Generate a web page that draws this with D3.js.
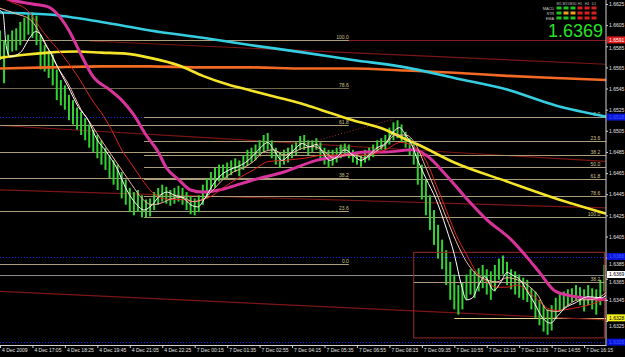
<!DOCTYPE html>
<html><head><meta charset="utf-8">
<script src="https://cdn.jsdelivr.net/npm/d3@7/dist/d3.min.js"></script>
<style>body{margin:0;background:#000;overflow:hidden}svg{display:block;font-family:"Liberation Sans",Arial,sans-serif}</style>
</head><body><svg width="625" height="357"></svg>
<script>
// time labels, one every 8 bars (each bar here = 10 min)
var timeLabels = ["4 Dec 2009","4 Dec 17:05","4 Dec 18:25","4 Dec 19:45","4 Dec 21:05","4 Dec 22:25",
  "7 Dec 00:15","7 Dec 01:35","7 Dec 02:55","7 Dec 04:15","7 Dec 05:35","7 Dec 06:55","7 Dec 08:15",
  "7 Dec 09:35","7 Dec 10:55","7 Dec 12:15","7 Dec 13:35","7 Dec 14:55","7 Dec 16:15"];
var priceTicks = [1.6625,1.6605,1.6585,1.6565,1.6545,1.6525,1.6505,1.6485,1.6465,1.6445,1.6425,1.6405,1.6385,1.6365,1.6345,1.6325];

var barHigh = [1.6600,1.6591,1.6596,1.6600,1.6602,1.6608,1.6612,1.6615,1.6617,1.6614,
  1.6596,1.6586,1.6581,1.6577,1.6563,1.6553,1.6548,1.6539,1.6534,1.6527,
  1.6523,1.6517,1.6511,1.6506,1.6501,1.6496,1.6489,1.6482,1.6477,1.6473,
  1.6466,1.6459,1.6451,1.6447,1.6449,1.6444,1.6440,1.6441,1.6447,1.6451,
  1.6454,1.6452,1.6449,1.6451,1.6453,1.6451,1.6447,1.6443,1.6441,1.6444,
  1.6454,1.6460,1.6466,1.6470,1.6473,1.6473,1.6475,1.6477,1.6479,1.6477,
  1.6482,1.6487,1.6489,1.6492,1.6496,1.6501,1.6503,1.6496,1.6489,1.6485,
  1.6487,1.6489,1.6492,1.6494,1.6500,1.6501,1.6496,1.6496,1.6498,1.6494,
  1.6489,1.6487,1.6487,1.6489,1.6492,1.6493,1.6492,1.6487,1.6485,1.6482,
  1.6487,1.6489,1.6492,1.6496,1.6498,1.6501,1.6508,1.6513,1.6515,1.6511,
  1.6504,1.6498,1.6494,1.6487,1.6473,1.6459,1.6444,1.6430,1.6416,1.6402,
  1.6392,1.6381,1.6369,1.6359,1.6362,1.6369,1.6374,1.6372,1.6375,1.6378,
  1.6374,1.6372,1.6378,1.6384,1.6387,1.6381,1.6374,1.6372,1.6369,1.6366,
  1.6364,1.6356,1.6353,1.6345,1.6340,1.6336,1.6340,1.6347,1.6350,1.6353,
  1.6355,1.6356,1.6359,1.6357,1.6355,1.6359,1.6356,1.6355,1.6364,1.6378];
var barLow = [1.6572,1.6550,1.6577,1.6580,1.6581,1.6586,1.6591,1.6596,1.6593,1.6586,
  1.6563,1.6561,1.6555,1.6548,1.6534,1.6529,1.6525,1.6515,1.6511,1.6506,
  1.6501,1.6496,1.6489,1.6485,1.6479,1.6473,1.6468,1.6460,1.6454,1.6449,
  1.6441,1.6435,1.6428,1.6425,1.6428,1.6423,1.6423,1.6424,1.6430,1.6435,
  1.6438,1.6436,1.6434,1.6436,1.6438,1.6435,1.6430,1.6426,1.6425,1.6428,
  1.6435,1.6441,1.6447,1.6451,1.6457,1.6459,1.6460,1.6463,1.6466,1.6462,
  1.6468,1.6472,1.6475,1.6477,1.6482,1.6485,1.6487,1.6479,1.6473,1.6470,
  1.6473,1.6475,1.6479,1.6482,1.6487,1.6487,1.6482,1.6485,1.6487,1.6479,
  1.6473,1.6470,1.6472,1.6475,1.6479,1.6482,1.6479,1.6475,1.6473,1.6471,
  1.6475,1.6477,1.6480,1.6484,1.6487,1.6487,1.6492,1.6496,1.6498,1.6494,
  1.6489,1.6482,1.6473,1.6454,1.6440,1.6425,1.6411,1.6397,1.6384,1.6374,
  1.6359,1.6345,1.6336,1.6331,1.6336,1.6345,1.6350,1.6347,1.6353,1.6356,
  1.6350,1.6345,1.6353,1.6364,1.6369,1.6359,1.6355,1.6350,1.6347,1.6345,
  1.6343,1.6336,1.6328,1.6321,1.6315,1.6312,1.6316,1.6328,1.6334,1.6337,
  1.6340,1.6343,1.6345,1.6340,1.6334,1.6340,1.6336,1.6331,1.6340,1.6353];

// moving averages as [bar, price]
var maFast = [[0,1.6619],[0.75,1.6616],[1.5,1.6586],[2.5,1.6575],[5,1.6579],[7.5,1.6594],[8.75,1.6599],[10,1.6596],
  [11.25,1.6586],[12.5,1.6579],[14.25,1.6565],[16.75,1.6547],[19.25,1.6528],[21.75,1.6515],[23.75,1.6498],[26.25,1.6485],
  [28.75,1.6470],[31.25,1.6449],[33.75,1.6435],[35.5,1.6430],[37.5,1.6435],[39.5,1.6444],[41.25,1.6447],[43,1.6444],
  [45,1.6442],[47,1.6435],[48.75,1.6433],[50.5,1.6441],[52.5,1.6454],[54.5,1.6463],[56.5,1.6468],[58.5,1.6471],
  [60.5,1.6475],[62.5,1.6482],[64.5,1.6490],[66,1.6494],[67.5,1.6487],[69.5,1.6477],[71.25,1.6482],[73,1.6489],
  [74.5,1.6493],[76.25,1.6490],[78,1.6492],[79.5,1.6485],[81.25,1.6477],[83,1.6480],[85,1.6487],[87,1.6482],
  [89,1.6477],[91,1.6482],[93,1.6489],[95,1.6493],[97,1.6504],[98.5,1.6508],[100,1.6501],[101.5,1.6492],
  [103,1.6477],[105,1.6460],[107.5,1.6440],[110,1.6413],[112,1.6388],[113.75,1.6359],[115,1.6345],[116.5,1.6347],
  [118,1.6359],[119.5,1.6367],[121.75,1.6354],[123.5,1.6362],[125,1.6371],[126.5,1.6368],[128.25,1.6364],[130,1.6353],
  [131.75,1.6342],[133.75,1.6328],[135.75,1.6323],[137.5,1.6330],[139.25,1.6337],[141.75,1.6342],[145,1.6348],[148.25,1.6347],[150.75,1.6356]];
var maMid = [[0,1.6621],[3.75,1.6616],[7.5,1.6610],[10.75,1.6591],[14.25,1.6565],[16.75,1.6550],[20,1.6525],[22.5,1.6511],
  [25,1.6496],[27.5,1.6482],[30,1.6468],[32.5,1.6454],[35,1.6441],[37.5,1.6435],[40,1.6437],[42.5,1.6441],[45,1.6442],
  [47.5,1.6438],[50,1.6440],[52.5,1.6449],[55,1.6459],[57.5,1.6466],[60,1.6470],[62.5,1.6476],[65,1.6485],[67.5,1.6487],
  [70,1.6482],[72.5,1.6485],[75,1.6489],[77.5,1.6490],[80,1.6485],[82.5,1.6479],[85,1.6482],[87.5,1.6482],[90,1.6479],
  [92.5,1.6485],[95,1.6492],[97.5,1.6501],[100,1.6501],[102.5,1.6492],[105,1.6470],[107.5,1.6447],[110,1.6423],
  [112.5,1.6400],[115,1.6381],[117.5,1.6369],[120,1.6364],[122.5,1.6362],[125,1.6366],[127.5,1.6364],[130,1.6359],
  [132.5,1.6350],[135,1.6335],[137.5,1.6334],[140,1.6340],[142.5,1.6345],[145,1.6345],[147.5,1.6347],[150,1.6354]];
var maSlow = [[0,1.6634],[1.75,1.6629],[6.75,1.6619],[10.75,1.6598],[15.75,1.6575],[19.25,1.6556],[23.25,1.6531],[25,1.6522],
  [27.5,1.6506],[30,1.6487],[32.5,1.6473],[35,1.6459],[37.5,1.6447],[40,1.6441],[42.5,1.6440],[45,1.6440],[47.5,1.6438],
  [50,1.6440],[52.5,1.6444],[55,1.6451],[58.75,1.6460],[62.5,1.6468],[66.25,1.6476],[70,1.6477],[75,1.6479],[80,1.6482],
  [85,1.6482],[90,1.6482],[95,1.6487],[98.75,1.6494],[102.5,1.6489],[105,1.6477],[107.5,1.6454],[110,1.6430],[112.5,1.6406],
  [115,1.6388],[117.5,1.6371],[120,1.6362],[122.5,1.6357],[125,1.6357],[127.5,1.6359],[130,1.6354],[132.5,1.6345],
  [135,1.6337],[137.5,1.6335],[141.25,1.6337],[145,1.6340],[150,1.6347]];
var ma50 = [[0,1.6632],[2.5,1.6629],[8,1.6625],[12,1.6622],[14,1.6616],[17,1.6600],[20,1.6577],[23,1.6556],[27,1.6544],
  [30,1.6534],[33,1.6520],[36,1.6501],[39,1.6485],[41,1.6470],[44,1.6459],[47,1.6449],[50,1.6447],[54,1.6449],[57,1.6452],
  [62,1.6458],[70,1.6466],[78,1.6477],[85,1.6482],[90,1.6485],[95,1.6485],[102,1.6487],[105,1.6482],[110,1.6463],
  [115,1.6441],[120,1.6421],[126,1.6402],[130,1.6385],[133,1.6371],[137,1.6353],[142,1.6348],[146,1.6346],[150,1.6345]];
var ma100 = [[0,1.6574],[6,1.6577],[12,1.6579],[19,1.6580],[25,1.6579],[31,1.6578],[37,1.6574],[44,1.6567],[50,1.6557],
  [56,1.6549],[62,1.6543],[69,1.6536],[75,1.6530],[79,1.6525],[87,1.6515],[95,1.6506],[100,1.6497],[103,1.6492],
  [112,1.6475],[125,1.6457],[137,1.6441],[150,1.6426]];
var ma200 = [[0,1.6617],[12,1.6615],[25,1.6608],[37,1.6600],[50,1.6593],[62,1.6586],[75,1.6579],[87,1.6572],[100,1.6565],
  [112,1.6555],[125,1.6544],[137,1.6529],[150,1.6518]];
var ma365 = [[0,1.6564],[12,1.6565],[25,1.6566],[37,1.6566],[50,1.6565],[62,1.6565],[75,1.6564],[87,1.6564],[100,1.6562],
  [112,1.6560],[125,1.6557],[137,1.6555],[150,1.6553]];

var fibLevels = [0, 23.6, 38.2, 50, 61.8, 78.6, 100];
var fibLeft = {start: 0, end: 86, p0: 1.6379, p100: 1.6591};
var fibRight = {start: 35.5, end: 150, p0: 1.6518, p100: 1.6423};
var boxBars = [102, 149], boxPrices = [1.6390, 1.6309];
var boxFib = 1.6362;
var redLevel = 1.6591, blueLevels = [1.6518, 1.6386, 1.6305], bidPrice = 1.6369, alertLevel = 1.6328;
var trendLines = [[[22,1.6590],[149.4,1.6568]], [[0,1.6449],[149.4,1.6432]], [[0,1.6353],[149.4,1.6326]], [[0,1.6510],[149.4,1.6476]]];
var dottedTrend = [[57,1.6473],[97,1.6516]];
var meterRows = ["MACD", "STR", "EMA"];
var meterCols = ["M5", "M15", "M30", "H1", "H4", "D1"];
var meterState = [[1,1,1,-1,-1,-1],[1,0,0,-1,-1,-1],[1,1,1,-1,-1,-1]];

var svg = d3.select("svg"),
  width = +svg.attr("width"),
  height = +svg.attr("height");
var plotRight = 606, plotBottom = 345;

var x = d3.scaleLinear().domain([0, 149.4]).range([0, plotRight]);
var y = d3.scaleLinear().domain([1.6325, 1.6625]).range([321, 4]);

svg.append("rect").attr("width", width).attr("height", height).attr("fill", "#000");
svg.append("defs").append("clipPath").attr("id", "plot")
  .append("rect").attr("width", plotRight).attr("height", plotBottom);
var g = svg.append("g").attr("clip-path", "url(#plot)");

function hline(p, b0, b1, color, w, dash) {
  var l = g.append("line")
    .attr("x1", x(b0)).attr("x2", x(b1))
    .attr("y1", Math.round(y(p)) + 0.5).attr("y2", Math.round(y(p)) + 0.5)
    .attr("stroke", color).attr("stroke-width", w || 1);
  if (dash) l.attr("stroke-dasharray", dash);
  return l;
}

// horizontal levels
blueLevels.forEach(function(p) { hline(p, 0, 149.4, "#1c1cff", 1, "1,2"); });
hline(redLevel, 0, 149.4, "#8a1a1a", 1.2);
hline(bidPrice, 0, 149.4, "#8c8c8c", 1);
hline(alertLevel, 112, 149.4, "#e0d890", 1);

// trend lines
trendLines.forEach(function(t) {
  g.append("line").attr("x1", x(t[0][0])).attr("y1", y(t[0][1]))
    .attr("x2", x(t[1][0])).attr("y2", y(t[1][1]))
    .attr("stroke", "#7c1616").attr("stroke-width", 1.2);
});
g.append("line").attr("x1", x(dottedTrend[0][0])).attr("y1", y(dottedTrend[0][1]))
  .attr("x2", x(dottedTrend[1][0])).attr("y2", y(dottedTrend[1][1]))
  .attr("stroke", "#a03030").attr("stroke-dasharray", "1,2");

// fibonacci sets
function drawFib(f, labelBar) {
  fibLevels.forEach(function(lv) {
    var p = f.p0 + (f.p100 - f.p0) * lv / 100;
    hline(p, f.start, f.end, lv == 78.6 && f === fibLeft ? "#6e684c" : "#aa9d7a", 1);
    g.append("text").attr("x", x(labelBar)).attr("y", y(p) - 1)
      .attr("text-anchor", "end").attr("font-size", 5).attr("fill", "#d2c48c")
      .text(lv.toFixed(1));
  });
}
drawFib(fibLeft, 86);
drawFib(fibRight, 148);

// price bars
g.append("g").selectAll("line").data(barHigh).enter().append("line")
  .attr("x1", function(d, i) { return x(i); })
  .attr("x2", function(d, i) { return x(i); })
  .attr("y1", function(d) { return y(d); })
  .attr("y2", function(d, i) { return y(barLow[i]); })
  .attr("stroke", "#34d034").attr("stroke-width", 2);

// box with its level
g.append("rect").attr("x", x(boxBars[0])).attr("y", y(boxPrices[0]))
  .attr("width", x(boxBars[1]) - x(boxBars[0])).attr("height", y(boxPrices[1]) - y(boxPrices[0]))
  .attr("fill", "none").attr("stroke", "#9c2a2a");
hline(boxFib, boxBars[0], boxBars[1], "#aa9d7a", 1);
g.append("text").attr("x", x(148)).attr("y", y(boxFib) - 1).attr("text-anchor", "end")
  .attr("font-size", 5).attr("fill", "#d2c48c").text("38.2");

// moving averages
var line = d3.line().x(function(d) { return x(d[0]); }).y(function(d) { return y(d[1]); })
  .curve(d3.curveMonotoneX);
[[ma365, "#f26a24", 2.6], [ma200, "#35cde0", 2.6], [ma100, "#f5e52a", 2.6], [ma50, "#d8339a", 3],
 [maSlow, "#e0221e", 1], [maMid, "#f7b4a0", 1], [maFast, "#ffffff", 1]].forEach(function(m) {
  g.append("path").attr("d", line(m[0])).attr("fill", "none")
    .attr("stroke", m[1]).attr("stroke-width", m[2]);
});

// axes
var xAxis = d3.axisBottom(x).tickValues(d3.range(timeLabels.length).map(function(k) { return k * 8; }))
  .tickFormat(function(d, i) { return timeLabels[i]; }).tickSize(3).tickSizeOuter(0);
var xg = svg.append("g").attr("transform", "translate(0," + plotBottom + ")").call(xAxis);
xg.select(".domain").attr("stroke", "#d0d0d0");
xg.selectAll(".tick line").attr("stroke", "#d0d0d0");
xg.selectAll("text").attr("fill", "#e0e0e0").attr("font-size", 5).attr("font-family", "Liberation Sans")
  .attr("text-anchor", "start").attr("x", 1.5).attr("dy", "0.2em");

// price tags on the scale, tick labels step aside when a tag covers them
var tags = [[redLevel, "#e01818", "#ffffff"], [blueLevels[0], "#0a14d8", "#3a5cff"], [blueLevels[1], "#0a14d8", "#3a5cff"],
  [blueLevels[2], "#0a14d8", "#3a5cff"], [bidPrice, "#ffffff", "#000000"], [alertLevel, "#f4f01c", "#000000"]];

var yAxis = d3.axisRight(y).tickValues(priceTicks).tickFormat(d3.format(".4f")).tickSize(2).tickSizeOuter(0);
var yg = svg.append("g").attr("transform", "translate(" + plotRight + ",0)").call(yAxis);
yg.select(".domain").attr("stroke", "#d0d0d0").attr("d", "M0,0V" + plotBottom);
yg.selectAll(".tick line").attr("stroke", "#d0d0d0");
yg.selectAll("text").attr("fill", "#e0e0e0").attr("font-size", 5).attr("font-family", "Liberation Sans").attr("x", 3)
  .attr("dy", function(d) {
    var shift = 0;
    tags.forEach(function(t) {
      var gap = y(d) - y(t[0]);
      if (Math.abs(gap) < 7.5) shift = gap >= 0 ? 7.5 - gap : -7.5 - gap;
    });
    return (shift + 1.7) + "px";
  });

tags.forEach(function(t) {
  var tg = svg.append("g").attr("transform", "translate(" + (plotRight + 1) + "," + y(t[0]) + ")");
  tg.append("rect").attr("x", 0).attr("y", -3.5).attr("width", 18).attr("height", 7).attr("fill", t[1]);
  tg.append("text").attr("x", 2).attr("y", 1.8).attr("font-size", 5).attr("fill", t[2]).text(t[0].toFixed(4));
});

// signal meter top right
var meter = svg.append("g");
meter.selectAll("text.col").data(meterCols).enter().append("text")
  .attr("x", function(d, i) { return 559 + i * 7; }).attr("y", 5).attr("text-anchor", "middle")
  .attr("font-size", 3.5).attr("fill", "#bdbdbd").text(function(d) { return d; });
meterRows.forEach(function(r, j) {
  meter.append("text").attr("x", 554).attr("y", 9.5 + j * 5).attr("text-anchor", "end")
    .attr("font-size", 3.8).attr("fill", "#cfcfcf").text(r);
  meterState[j].forEach(function(s, i) {
    meter.append("rect").attr("x", 556.5 + i * 7).attr("y", 6.5 + j * 5).attr("width", 5).attr("height", 3)
      .attr("fill", s > 0 ? "#22c022" : s < 0 ? "#d42020" : "#e8a020");
  });
});
svg.append("text").attr("x", 603).attr("y", 37).attr("text-anchor", "end")
  .attr("font-size", 18).attr("fill", "#28e028").attr("font-family", "Liberation Sans")
  .text(bidPrice.toFixed(4));
</script>
</body></html>
